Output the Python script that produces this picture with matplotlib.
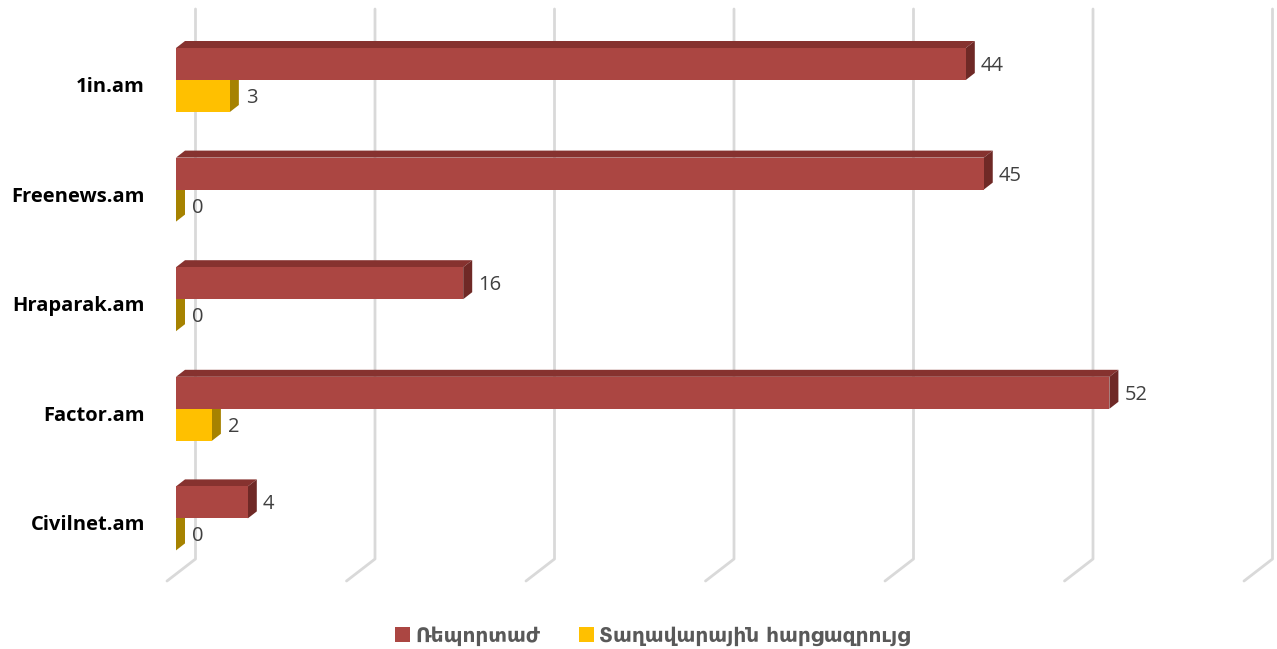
import matplotlib
matplotlib.use("Agg")
import matplotlib.pyplot as plt
from matplotlib.patches import Polygon, Patch

# chart data
sites = ["1in.am", "Freenews.am", "Hraparak.am", "Factor.am", "Civilnet.am"]
reportage = [44, 45, 16, 52, 4]
survey = [3, 0, 0, 2, 0]
grid_ticks = [0, 10, 20, 30, 40, 50, 60]
series_names = ["Ռեպորտաժ", "Տաղավարային հարցազրույց"]

W, H = 1277, 649
PX = 17.95      # pixels per unit on the x axis
X0 = 176        # pixel of value 0 on the front plane
GY = 109.6      # pixels per category
Y0 = 80         # pixel of the first category center

fig = plt.figure(figsize=(W / 100, H / 100), dpi=100)
ax = fig.add_axes([0, 0, 1, 1])
ax.axis("off")
ax.set_xlim(-X0 / PX, (W - X0) / PX)
ax.set_ylim((H - Y0) / GY, -Y0 / GY)

# sizes in data units
dx = 9 / PX
dy = 7 / GY
bar_h = 32 / GY

# 3d gridlines: vertical on the back wall, then slanted along the floor
back = 19.5 / PX
y_top = (9 - Y0) / GY
y_bot = (559 - Y0) / GY
y_front = (581 - Y0) / GY
for t in grid_ticks:
    xb = t + back
    ax.plot([xb, xb, xb - 28.5 / PX], [y_top, y_bot, y_front],
            color="#d9d9d9", lw=2.0, solid_capstyle="round", zorder=1)


def bar3d(v, top, front, topc, side):
    bot = top + bar_h
    ax.add_patch(Polygon([(0, top), (v, top), (v + dx, top - dy), (dx, top - dy)],
                         closed=True, fc=topc, ec="none", zorder=3))
    ax.add_patch(Polygon([(v, top), (v, bot), (v + dx, bot - dy), (v + dx, top - dy)],
                         closed=True, fc=side, ec="none", zorder=3))
    if v > 0:
        ax.add_patch(Polygon([(0, top), (v, top), (v, bot), (0, bot)],
                             closed=True, fc=front, ec="none", zorder=3))


lab_font = dict(family="Open Sans", fontsize=14.5, color="#404040")
for i, site in enumerate(sites):
    # yellow first so the red bar covers its top face
    bar3d(survey[i], i, "#ffc000", "#c89a00", "#a68200")
    bar3d(reportage[i], i - bar_h, "#ab4642", "#86322f", "#6f2926")

    ax.text(reportage[i] + dx + 6 / PX, i - bar_h / 2 + 2 / GY, str(reportage[i]),
            ha="left", va="center", **lab_font)
    ax.text(survey[i] + dx + 7 / PX, i + bar_h / 2 + 2 / GY, str(survey[i]),
            ha="left", va="center", **lab_font)
    ax.text(-31 / PX, i + 7 / GY, site, ha="right", va="center",
            family="Open Sans", fontsize=14.5, fontweight="bold", color="black")

handles = [Patch(fc="#ab4642", ec="none"), Patch(fc="#ffc000", ec="none")]
fig.legend(handles, series_names, loc="center", bbox_to_anchor=(0.511, 1 - 636 / H),
           ncol=2, frameon=False, handlelength=0.75, handleheight=0.75,
           handletextpad=0.25, columnspacing=1.9,
           prop=dict(family="DejaVu Sans", weight="bold", size=14.5),
           labelcolor="#595959")

fig.savefig("out.png", dpi=100)
